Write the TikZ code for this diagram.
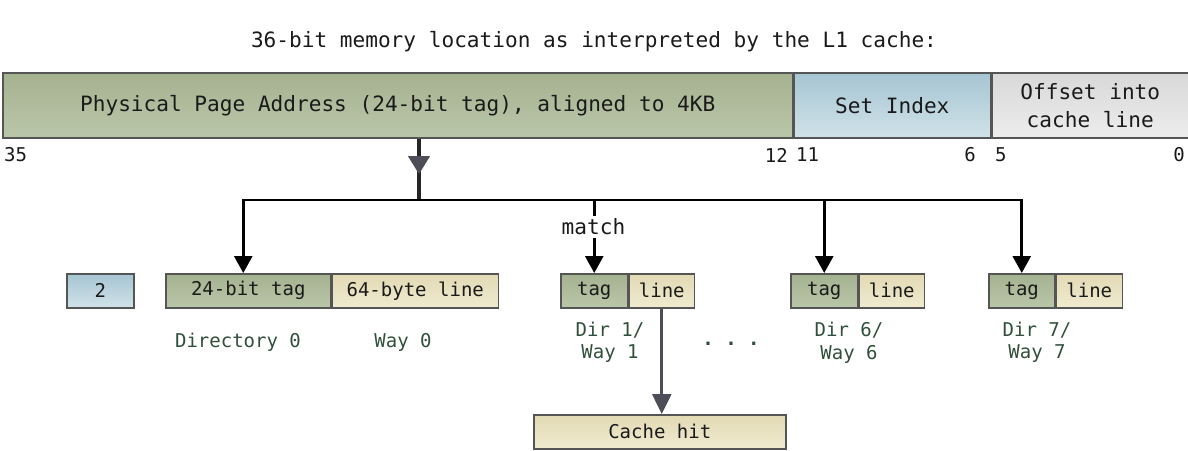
\documentclass[tikz,border=0pt]{standalone}
\usepackage{fontspec}
\setmonofont{DejaVu Sans Mono}
\usetikzlibrary{arrows.meta,decorations.markings,calc}

\definecolor{greenA}{HTML}{A5B290}
\definecolor{greenB}{HTML}{BAC6A9}
\definecolor{blueA}{HTML}{A6C5D2}
\definecolor{blueB}{HTML}{D0E2E9}
\definecolor{grayA}{HTML}{D8D8D8}
\definecolor{grayB}{HTML}{EDEDED}
\definecolor{beigeA}{HTML}{E2DAB4}
\definecolor{beigeB}{HTML}{F0EAD0}
\definecolor{bordr}{HTML}{555555}
\definecolor{lbl}{HTML}{30503C}
\definecolor{arrgray}{HTML}{4E4E58}
\definecolor{txt}{HTML}{1A1A1A}

\tikzset{
  fldfont/.style={font=\ttfamily\fontsize{19}{23}\selectfont},
  bigfont/.style={font=\ttfamily\fontsize{21.1}{28}\selectfont},
  fld/.style={draw=bordr, line width=1.5pt, inner sep=0pt, anchor=north west,
    fldfont, text=txt, align=center, minimum height=34pt},
  bigfld/.style={fld, bigfont, minimum height=65pt},
  greenf/.style={top color=greenA, bottom color=greenB},
  bluef/.style={top color=blueA, bottom color=blueB},
  grayf/.style={top color=grayA, bottom color=grayB},
  beigef/.style={top color=beigeA, bottom color=beigeB},
  bitnum/.style={fldfont, text=txt, inner sep=0pt},
  dirlbl/.style={fldfont, text=lbl, inner sep=0pt, align=center},
  droparr/.style={draw=black, line width=2.8pt, -{Triangle[width=18pt,length=17pt]}},
  hitarr/.style={draw=arrgray, line width=2.6pt, -{Triangle[width=19pt,length=20pt]}},
  stemline/.style={draw=black!85, line width=4pt, postaction={decorate},
    decoration={markings, mark=at position 0.58 with {\arrow{Triangle[width=21pt,length=18pt,color=arrgray]}}}},
}

\begin{document}
\begin{tikzpicture}[x=1pt,y=-1pt]
\useasboundingbox (0,0) rectangle (1188,450);

% title
\node[bigfont, text=txt, inner sep=0pt] (title) at (594,42) {36-bit memory location as interpreted by the L1 cache:};

% address bar
\node[bigfld, greenf, minimum width=790pt] (pa) at (2,72) {Physical Page Address (24-bit tag), aligned to 4KB};
\node[bigfld, bluef, minimum width=196pt] (si) at (pa.north east) {Set Index};
\node[bigfld, grayf, minimum width=197pt] (off) at (si.north east) {Offset into\\cache line};

% bit numbers
\node[bitnum, anchor=west] (b35) at (4,155) {35};
\node[bitnum, anchor=east] (b12) at (788,155) {12};
\node[bitnum, anchor=west] (b11) at (796,155) {11};
\node[bitnum, anchor=east] (b6) at (976,155) {6};
\node[bitnum, anchor=west] (b5) at (995,155) {5};
\node[bitnum, anchor=east] (b0) at (1185,155) {0};

% boxes row
\node[fld, bluef, minimum width=67pt] (two) at (66,273) {2};
\node[fld, greenf, minimum width=165pt] (tag0) at (165,273) {24-bit tag};
\node[fld, beigef, minimum width=166pt] (line0) at (tag0.north east) {64-byte line};
\node[fld, greenf, minimum width=67pt] (tag1) at (560,273) {tag};
\node[fld, beigef, minimum width=65pt] (line1) at (tag1.north east) {line};
\node[fld, greenf, minimum width=67pt] (tag6) at (790,273) {tag};
\node[fld, beigef, minimum width=65pt] (line6) at (tag6.north east) {line};
\node[fld, greenf, minimum width=66pt] (tag7) at (988,273) {tag};
\node[fld, beigef, minimum width=66pt] (line7) at (tag7.north east) {line};

\node[fld, beigef, minimum width=252pt] (hit) at (533,414) {Cache hit};

% labels
\node[dirlbl] (d0) at (238,342) {Directory 0};
\node[dirlbl] (w0) at (403,342) {Way 0};
\node[dirlbl] (d1) at (610,330) {Dir 1/};
\node[dirlbl] (w1) at (610,354) {Way 1};
\node[dirlbl, font=\ttfamily\bfseries\fontsize{19}{23}\selectfont] (dots) at (731,344) {. . .};
\node[dirlbl] (d6) at (849,330) {Dir 6/};
\node[dirlbl] (w6) at (849,354) {Way 6};
\node[dirlbl] (d7) at (1037,330) {Dir 7/};
\node[dirlbl] (w7) at (1037,354) {Way 7};

% connectors
\coordinate (j) at (419,200);
\draw[stemline] (j |- pa.south) -- (j);
\coordinate (t0) at ($(tag0.north)+(-5,0)$);
\draw[droparr] (j) -| (t0);
\draw[droparr] (j) -| (tag1.north);
\draw[droparr] (j) -| (tag6.north);
\draw[droparr] (j) -| (tag7.north);
\node[bigfont, fill=white, inner sep=2.5pt, text=txt] (match) at (593.5,227) {match};

\draw[hitarr] (line1.south) -- (line1.south |- hit.north);
\end{tikzpicture}
\end{document}
